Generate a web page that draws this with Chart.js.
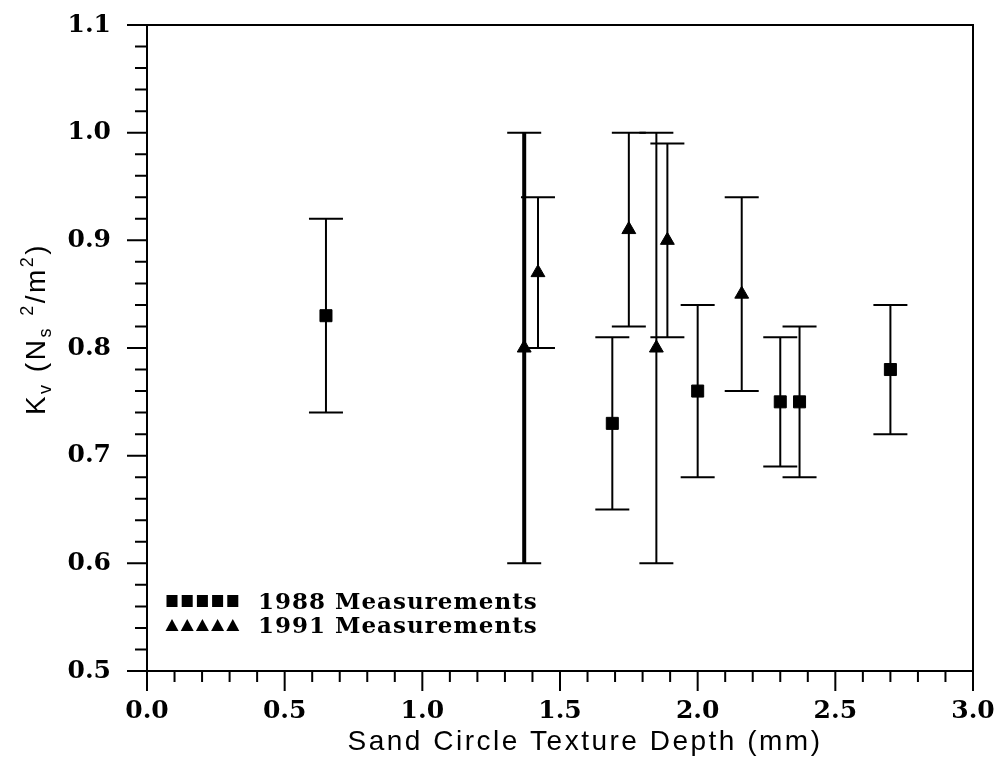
<!DOCTYPE html>
<html>
<head>
<meta charset="utf-8">
<script src="https://cdn.jsdelivr.net/npm/chart.js@4.4.1/dist/chart.umd.min.js"></script>
<style>
  html, body { margin: 0; padding: 0; background: #fff; }
  canvas { display: block; }
</style>
</head>
<body>
<canvas id="kvChart" width="997" height="767"></canvas>
<script>
// 1988 measurements (squares)
const depth88 = [0.65, 1.69, 2.00, 2.30, 2.37, 2.70];
const kv88 = [0.83, 0.73, 0.76, 0.75, 0.75, 0.78];
const kv88Low = [0.74, 0.65, 0.68, 0.69, 0.68, 0.72];
const kv88High = [0.92, 0.81, 0.84, 0.81, 0.82, 0.84];

// 1991 measurements (triangles)
const depth91 = [1.37, 1.42, 1.75, 1.85, 1.89, 2.16];
const kv91 = [0.80, 0.87, 0.91, 0.80, 0.90, 0.85];
const kv91Low = [0.60, 0.80, 0.82, 0.60, 0.81, 0.76];
const kv91High = [1.00, 0.94, 1.00, 1.00, 0.99, 0.94];

const xTicks = [0.0, 0.5, 1.0, 1.5, 2.0, 2.5, 3.0];
const yTicks = [0.5, 0.6, 0.7, 0.8, 0.9, 1.0, 1.1];
const legendLabels = ['1988 Measurements', '1991 Measurements'];

// line widths of the error bars (first 1991 bar is drawn heavy in the original)
const barWidths88 = [2, 2, 2, 2, 2, 2];
const barWidths91 = [4, 2, 2, 2, 2, 2];

const titleFont = '"Liberation Sans", Arial, sans-serif';

const toPoints = (xs, ys) => xs.map((x, i) => ({ x: x, y: ys[i] }));

const errorBars = {
  id: 'errorBars',
  beforeDatasetsDraw(chart) {
    const ctx = chart.ctx;
    const xs = chart.scales.x, ys = chart.scales.y;
    const sets = [
      [depth88, kv88Low, kv88High, barWidths88],
      [depth91, kv91Low, kv91High, barWidths91]
    ];
    ctx.save();
    ctx.strokeStyle = '#000';
    sets.forEach(([dx, lo, hi, w]) => {
      dx.forEach((d, i) => {
        const px = xs.getPixelForValue(d);
        const top = ys.getPixelForValue(hi[i]);
        const bot = ys.getPixelForValue(lo[i]);
        ctx.lineWidth = w[i];
        ctx.beginPath();
        ctx.moveTo(px, top);
        ctx.lineTo(px, bot);
        ctx.stroke();
        ctx.lineWidth = 2;
        ctx.beginPath();
        ctx.moveTo(px - 17, top); ctx.lineTo(px + 17, top);
        ctx.moveTo(px - 17, bot); ctx.lineTo(px + 17, bot);
        ctx.stroke();
      });
    });
    ctx.restore();
  }
};

const frame = {
  id: 'frame',
  afterDraw(chart) {
    const ctx = chart.ctx;
    const a = chart.chartArea;
    const xs = chart.scales.x, ys = chart.scales.y;
    ctx.save();
    ctx.strokeStyle = '#000';
    ctx.lineWidth = 2;
    ctx.strokeRect(a.left, a.top, a.right - a.left, a.bottom - a.top);

    // x ticks every 0.1, major every 0.5, pointing down
    ctx.beginPath();
    for (let i = 0; i <= 30; i++) {
      const px = xs.getPixelForValue(i / 10);
      const len = i % 5 === 0 ? 20 : 11;
      ctx.moveTo(px, a.bottom);
      ctx.lineTo(px, a.bottom + len);
    }
    // y ticks every 0.02, major every 0.1, pointing left
    for (let i = 0; i <= 30; i++) {
      const py = ys.getPixelForValue(0.5 + i * 0.02);
      const len = i % 5 === 0 ? 20 : 12;
      ctx.moveTo(a.left, py);
      ctx.lineTo(a.left - len, py);
    }
    ctx.stroke();

    // x axis title
    ctx.fillStyle = '#000';
    ctx.font = '28px ' + titleFont;
    ctx.letterSpacing = '2.5px';
    ctx.textAlign = 'center';
    ctx.textBaseline = 'alphabetic';
    ctx.fillText('Sand Circle Texture Depth (mm)', 585, 750);

    // y axis title with sub/superscripts
    const parts = [
      ['K', 28, 0], ['v', 18, 6], [' (N', 28, 0], ['s', 18, 6],
      [' ', 28, 0], ['2', 18, -12], ['/m', 28, 0], ['2', 18, -12], [')', 28, 0]
    ];
    ctx.textAlign = 'left';
    let total = 0;
    parts.forEach(p => { ctx.font = p[1] + 'px ' + titleFont; total += ctx.measureText(p[0]).width; });
    ctx.translate(45, 329);
    ctx.rotate(-Math.PI / 2);
    let cx = -total / 2;
    parts.forEach(p => {
      ctx.font = p[1] + 'px ' + titleFont;
      ctx.fillText(p[0], cx, p[2]);
      cx += ctx.measureText(p[0]).width;
    });
    ctx.restore();

    // legend in the lower left corner
    ctx.save();
    ctx.fillStyle = '#000';
    for (let k = 0; k < 5; k++) {
      const mx = 172 + k * 15.2;
      ctx.fillRect(mx - 5.5, 595, 11, 12);
      ctx.beginPath();
      ctx.moveTo(mx, 619);
      ctx.lineTo(mx + 6.5, 631);
      ctx.lineTo(mx - 6.5, 631);
      ctx.closePath();
      ctx.fill();
    }
    ctx.font = 'bold 23px "DejaVu Serif"';
    ctx.letterSpacing = '1px';
    ctx.textAlign = 'left';
    ctx.textBaseline = 'middle';
    ctx.fillText(legendLabels[0], 258, 603);
    ctx.fillText(legendLabels[1], 258, 627);
    ctx.restore();
  }
};

new Chart(document.getElementById('kvChart'), {
  type: 'scatter',
  data: {
    datasets: [
      {
        label: legendLabels[0],
        data: toPoints(depth88, kv88),
        pointStyle: 'rect',
        pointRadius: 8.5,
        backgroundColor: '#000',
        borderColor: '#000',
        borderWidth: 1
      },
      {
        label: legendLabels[1],
        data: toPoints(depth91, kv91),
        pointStyle: 'triangle',
        pointRadius: 8,
        backgroundColor: '#000',
        borderColor: '#000',
        borderWidth: 1
      }
    ]
  },
  options: {
    responsive: false,
    animation: false,
    devicePixelRatio: 1,
    layout: { padding: { top: 25, right: 24, left: 0, bottom: 0 } },
    plugins: {
      legend: { display: false },
      tooltip: { enabled: false }
    },
    scales: {
      x: {
        type: 'linear',
        min: 0,
        max: 3,
        afterBuildTicks: (scale) => { scale.ticks = xTicks.map(v => ({ value: v })); },
        afterFit: (scale) => {
          scale.height = 96;
          scale.paddingLeft = 0;
          scale.paddingRight = 0;
        },
        ticks: {
          color: '#000',
          font: { family: 'DejaVu Serif', size: 25, weight: 'bold' },
          padding: 25,
          maxRotation: 0,
          callback: (v) => Number(v).toFixed(1)
        },
        grid: { display: false, drawTicks: false },
        border: { display: false }
      },
      y: {
        type: 'linear',
        min: 0.5,
        max: 1.1,
        afterBuildTicks: (scale) => { scale.ticks = yTicks.map(v => ({ value: v })); },
        afterFit: (scale) => {
          scale.width = 147;
          scale.paddingTop = 0;
          scale.paddingBottom = 0;
        },
        ticks: {
          color: '#000',
          font: { family: 'DejaVu Serif', size: 25, weight: 'bold' },
          padding: 36,
          callback: (v) => Number(v).toFixed(1)
        },
        grid: { display: false, drawTicks: false },
        border: { display: false }
      }
    }
  },
  plugins: [errorBars, frame]
});
</script>
</body>
</html>
